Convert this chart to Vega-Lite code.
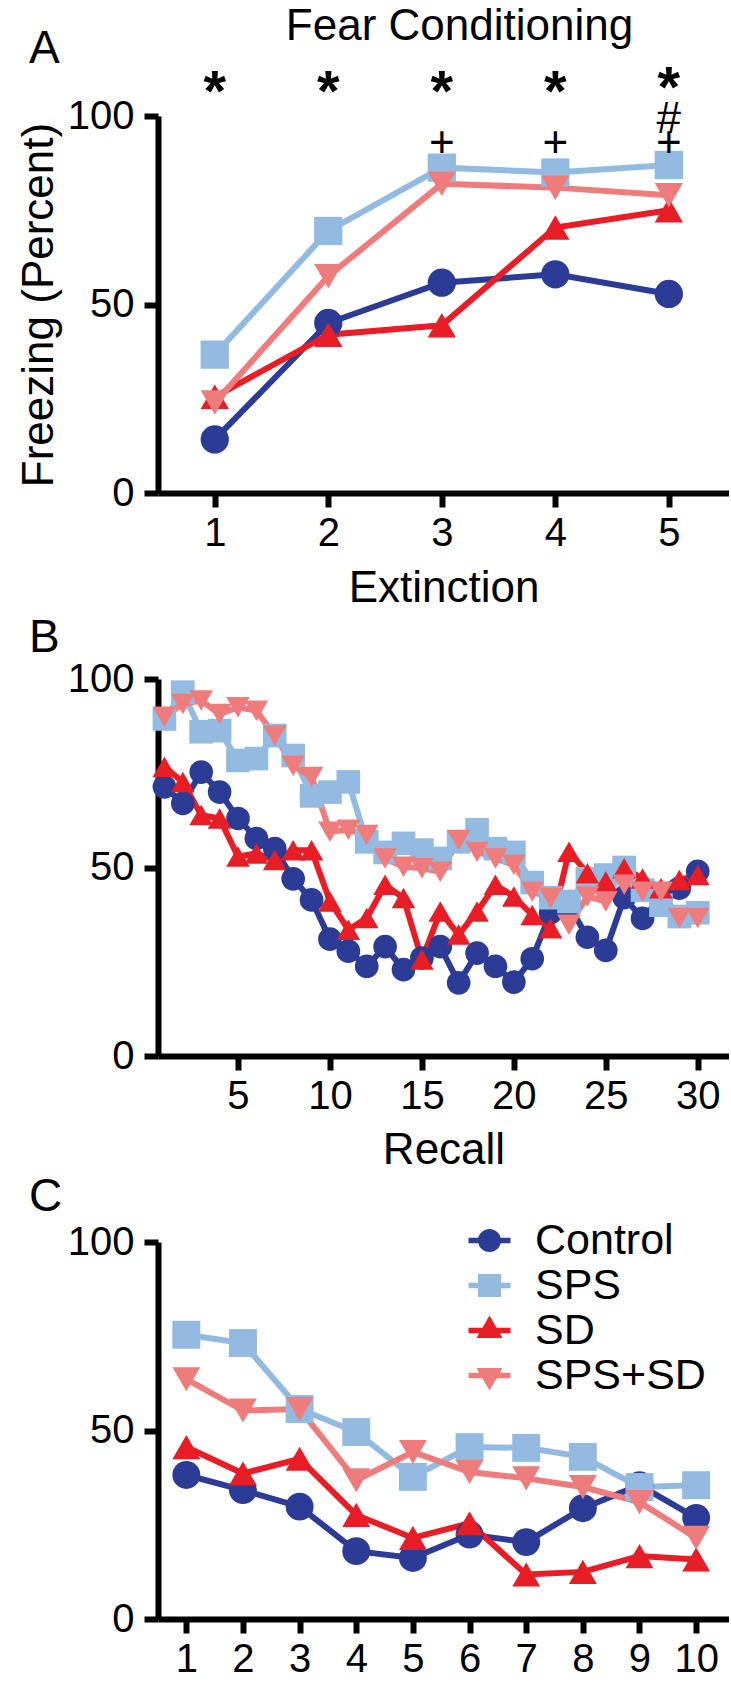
{
  "$schema": "https://vega.github.io/schema/vega-lite/v6.json",
  "background": "white",
  "autosize": {"type": "pad"},
  "padding": {"left": 17, "top": 4, "right": 0, "bottom": 0},
  "config": {
    "font": "Liberation Sans",
    "view": {"stroke": null},
    "axis": {"grid": false, "domainColor": "black", "domainWidth": 6, "tickColor": "black", "tickWidth": 6, "tickSize": 14, "labelFontSize": 40, "labelColor": "black", "labelFont": "Liberation Sans", "titleFont": "Liberation Sans", "titleFontSize": 44, "titleFontWeight": "normal", "titleColor": "black", "labelFlush": false, "labelOverlap": false},
    "axisY": {"labelPadding": 10},
    "axisX": {"labelPadding": 6, "format": "d"},
    "title": {"font": "Liberation Sans", "fontWeight": "normal", "color": "black"}
  },
  "title": {"text": "Fear Conditioning", "fontSize": 44, "anchor": "middle", "frame": "group", "dx": 16, "offset": -23},
  "bounds": "flush",
  "spacing": 186,
  "resolve": {"scale": {"color": "independent", "shape": "independent", "x": "independent", "y": "independent"}, "legend": {"color": "independent", "shape": "independent"}},
  "datasets": {
    "conditioning": [
      {"group": "Control", "trial": 1, "freezing": 14.2}, {"group": "Control", "trial": 2, "freezing": 45.1}, {"group": "Control", "trial": 3, "freezing": 55.8}, {"group": "Control", "trial": 4, "freezing": 58}, {"group": "Control", "trial": 5, "freezing": 52.8},
      {"group": "SPS", "trial": 1, "freezing": 36.7}, {"group": "SPS", "trial": 2, "freezing": 69.5}, {"group": "SPS", "trial": 3, "freezing": 86.3}, {"group": "SPS", "trial": 4, "freezing": 85}, {"group": "SPS", "trial": 5, "freezing": 87},
      {"group": "SD", "trial": 1, "freezing": 25.5}, {"group": "SD", "trial": 2, "freezing": 42}, {"group": "SD", "trial": 3, "freezing": 44.5}, {"group": "SD", "trial": 4, "freezing": 70.4}, {"group": "SD", "trial": 5, "freezing": 75},
      {"group": "SPS+SD", "trial": 1, "freezing": 24}, {"group": "SPS+SD", "trial": 2, "freezing": 57.5}, {"group": "SPS+SD", "trial": 3, "freezing": 82}, {"group": "SPS+SD", "trial": 4, "freezing": 81}, {"group": "SPS+SD", "trial": 5, "freezing": 79}
    ],
    "signif": [
      {"trial": 1, "freezing": 109.8, "sym": "*"}, {"trial": 2, "freezing": 109.8, "sym": "*"}, {"trial": 3, "freezing": 109.8, "sym": "*"}, {"trial": 4, "freezing": 109.8, "sym": "*"}, {"trial": 5, "freezing": 111, "sym": "*"},
      {"trial": 5, "freezing": 99, "sym": "#"},
      {"trial": 3, "freezing": 92.5, "sym": "+"}, {"trial": 4, "freezing": 92.5, "sym": "+"}, {"trial": 5, "freezing": 92.5, "sym": "+"}
    ],
    "extinction": [
      {"group": "Control", "trial": 1, "freezing": 71.4}, {"group": "Control", "trial": 2, "freezing": 67}, {"group": "Control", "trial": 3, "freezing": 75.3}, {"group": "Control", "trial": 4, "freezing": 70}, {"group": "Control", "trial": 5, "freezing": 63}, {"group": "Control", "trial": 6, "freezing": 57.7}, {"group": "Control", "trial": 7, "freezing": 55}, {"group": "Control", "trial": 8, "freezing": 47}, {"group": "Control", "trial": 9, "freezing": 41.4}, {"group": "Control", "trial": 10, "freezing": 31}, {"group": "Control", "trial": 11, "freezing": 27.8}, {"group": "Control", "trial": 12, "freezing": 23.8}, {"group": "Control", "trial": 13, "freezing": 29}, {"group": "Control", "trial": 14, "freezing": 22.9}, {"group": "Control", "trial": 15, "freezing": 26}, {"group": "Control", "trial": 16, "freezing": 29}, {"group": "Control", "trial": 17, "freezing": 19.4}, {"group": "Control", "trial": 18, "freezing": 27.3}, {"group": "Control", "trial": 19, "freezing": 23.8}, {"group": "Control", "trial": 20, "freezing": 19.6}, {"group": "Control", "trial": 21, "freezing": 25.8}, {"group": "Control", "trial": 22, "freezing": 38}, {"group": "Control", "trial": 23, "freezing": 40}, {"group": "Control", "trial": 24, "freezing": 31.5}, {"group": "Control", "trial": 25, "freezing": 28}, {"group": "Control", "trial": 26, "freezing": 42}, {"group": "Control", "trial": 27, "freezing": 36.5}, {"group": "Control", "trial": 28, "freezing": 42}, {"group": "Control", "trial": 29, "freezing": 44.5}, {"group": "Control", "trial": 30, "freezing": 49},
      {"group": "SPS", "trial": 1, "freezing": 89.4}, {"group": "SPS", "trial": 2, "freezing": 96.5}, {"group": "SPS", "trial": 3, "freezing": 86}, {"group": "SPS", "trial": 4, "freezing": 86.3}, {"group": "SPS", "trial": 5, "freezing": 78.4}, {"group": "SPS", "trial": 6, "freezing": 78.9}, {"group": "SPS", "trial": 7, "freezing": 85}, {"group": "SPS", "trial": 8, "freezing": 79.7}, {"group": "SPS", "trial": 9, "freezing": 69}, {"group": "SPS", "trial": 10, "freezing": 70}, {"group": "SPS", "trial": 11, "freezing": 72.7}, {"group": "SPS", "trial": 12, "freezing": 56.8}, {"group": "SPS", "trial": 13, "freezing": 54}, {"group": "SPS", "trial": 14, "freezing": 56.4}, {"group": "SPS", "trial": 15, "freezing": 54.6}, {"group": "SPS", "trial": 16, "freezing": 52.4}, {"group": "SPS", "trial": 17, "freezing": 56.8}, {"group": "SPS", "trial": 18, "freezing": 60}, {"group": "SPS", "trial": 19, "freezing": 55}, {"group": "SPS", "trial": 20, "freezing": 54}, {"group": "SPS", "trial": 21, "freezing": 46}, {"group": "SPS", "trial": 22, "freezing": 42}, {"group": "SPS", "trial": 23, "freezing": 41}, {"group": "SPS", "trial": 24, "freezing": 47}, {"group": "SPS", "trial": 25, "freezing": 48}, {"group": "SPS", "trial": 26, "freezing": 50}, {"group": "SPS", "trial": 27, "freezing": 44}, {"group": "SPS", "trial": 28, "freezing": 40}, {"group": "SPS", "trial": 29, "freezing": 37}, {"group": "SPS", "trial": 30, "freezing": 38},
      {"group": "SD", "trial": 1, "freezing": 76.7}, {"group": "SD", "trial": 2, "freezing": 72.7}, {"group": "SD", "trial": 3, "freezing": 63.9}, {"group": "SD", "trial": 4, "freezing": 63}, {"group": "SD", "trial": 5, "freezing": 52.9}, {"group": "SD", "trial": 6, "freezing": 53.7}, {"group": "SD", "trial": 7, "freezing": 52}, {"group": "SD", "trial": 8, "freezing": 54.6}, {"group": "SD", "trial": 9, "freezing": 54.6}, {"group": "SD", "trial": 10, "freezing": 41}, {"group": "SD", "trial": 11, "freezing": 33.5}, {"group": "SD", "trial": 12, "freezing": 36.6}, {"group": "SD", "trial": 13, "freezing": 45.4}, {"group": "SD", "trial": 14, "freezing": 41.9}, {"group": "SD", "trial": 15, "freezing": 25.6}, {"group": "SD", "trial": 16, "freezing": 38.3}, {"group": "SD", "trial": 17, "freezing": 32.2}, {"group": "SD", "trial": 18, "freezing": 38.3}, {"group": "SD", "trial": 19, "freezing": 45.4}, {"group": "SD", "trial": 20, "freezing": 42.3}, {"group": "SD", "trial": 21, "freezing": 37.4}, {"group": "SD", "trial": 22, "freezing": 33.9}, {"group": "SD", "trial": 23, "freezing": 54.2}, {"group": "SD", "trial": 24, "freezing": 48.5}, {"group": "SD", "trial": 25, "freezing": 46.3}, {"group": "SD", "trial": 26, "freezing": 49.8}, {"group": "SD", "trial": 27, "freezing": 47.1}, {"group": "SD", "trial": 28, "freezing": 44.5}, {"group": "SD", "trial": 29, "freezing": 46.7}, {"group": "SD", "trial": 30, "freezing": 48},
      {"group": "SPS+SD", "trial": 1, "freezing": 90}, {"group": "SPS+SD", "trial": 2, "freezing": 93.4}, {"group": "SPS+SD", "trial": 3, "freezing": 94.3}, {"group": "SPS+SD", "trial": 4, "freezing": 90.7}, {"group": "SPS+SD", "trial": 5, "freezing": 92.5}, {"group": "SPS+SD", "trial": 6, "freezing": 91.6}, {"group": "SPS+SD", "trial": 7, "freezing": 85}, {"group": "SPS+SD", "trial": 8, "freezing": 77}, {"group": "SPS+SD", "trial": 9, "freezing": 74}, {"group": "SPS+SD", "trial": 10, "freezing": 59.5}, {"group": "SPS+SD", "trial": 11, "freezing": 60}, {"group": "SPS+SD", "trial": 12, "freezing": 58.6}, {"group": "SPS+SD", "trial": 13, "freezing": 52.4}, {"group": "SPS+SD", "trial": 14, "freezing": 50.2}, {"group": "SPS+SD", "trial": 15, "freezing": 49.8}, {"group": "SPS+SD", "trial": 16, "freezing": 48.9}, {"group": "SPS+SD", "trial": 17, "freezing": 57.3}, {"group": "SPS+SD", "trial": 18, "freezing": 54.2}, {"group": "SPS+SD", "trial": 19, "freezing": 52.4}, {"group": "SPS+SD", "trial": 20, "freezing": 50.7}, {"group": "SPS+SD", "trial": 21, "freezing": 43.6}, {"group": "SPS+SD", "trial": 22, "freezing": 41.9}, {"group": "SPS+SD", "trial": 23, "freezing": 34.8}, {"group": "SPS+SD", "trial": 24, "freezing": 42.3}, {"group": "SPS+SD", "trial": 25, "freezing": 41}, {"group": "SPS+SD", "trial": 26, "freezing": 45.4}, {"group": "SPS+SD", "trial": 27, "freezing": 43.6}, {"group": "SPS+SD", "trial": 28, "freezing": 43.6}, {"group": "SPS+SD", "trial": 29, "freezing": 36.6}, {"group": "SPS+SD", "trial": 30, "freezing": 36.6}
    ],
    "recall": [
      {"group": "Control", "trial": 1, "freezing": 38.2}, {"group": "Control", "trial": 2, "freezing": 34.2}, {"group": "Control", "trial": 3, "freezing": 29.8}, {"group": "Control", "trial": 4, "freezing": 18}, {"group": "Control", "trial": 5, "freezing": 16.2}, {"group": "Control", "trial": 6, "freezing": 22.4}, {"group": "Control", "trial": 7, "freezing": 20.4}, {"group": "Control", "trial": 8, "freezing": 29.4}, {"group": "Control", "trial": 9, "freezing": 35.5}, {"group": "Control", "trial": 10, "freezing": 26.8},
      {"group": "SPS", "trial": 1, "freezing": 75.4}, {"group": "SPS", "trial": 2, "freezing": 73.2}, {"group": "SPS", "trial": 3, "freezing": 55.7}, {"group": "SPS", "trial": 4, "freezing": 49.6}, {"group": "SPS", "trial": 5, "freezing": 37.7}, {"group": "SPS", "trial": 6, "freezing": 45.6}, {"group": "SPS", "trial": 7, "freezing": 45.4}, {"group": "SPS", "trial": 8, "freezing": 43}, {"group": "SPS", "trial": 9, "freezing": 35}, {"group": "SPS", "trial": 10, "freezing": 35.5},
      {"group": "SD", "trial": 1, "freezing": 45.6}, {"group": "SD", "trial": 2, "freezing": 38.6}, {"group": "SD", "trial": 3, "freezing": 42.5}, {"group": "SD", "trial": 4, "freezing": 27.6}, {"group": "SD", "trial": 5, "freezing": 21.5}, {"group": "SD", "trial": 6, "freezing": 25.4}, {"group": "SD", "trial": 7, "freezing": 11.8}, {"group": "SD", "trial": 8, "freezing": 12.5}, {"group": "SD", "trial": 9, "freezing": 16.7}, {"group": "SD", "trial": 10, "freezing": 15.8},
      {"group": "SPS+SD", "trial": 1, "freezing": 63.6}, {"group": "SPS+SD", "trial": 2, "freezing": 55.3}, {"group": "SPS+SD", "trial": 3, "freezing": 55.7}, {"group": "SPS+SD", "trial": 4, "freezing": 36.8}, {"group": "SPS+SD", "trial": 5, "freezing": 44.3}, {"group": "SPS+SD", "trial": 6, "freezing": 39}, {"group": "SPS+SD", "trial": 7, "freezing": 37.3}, {"group": "SPS+SD", "trial": 8, "freezing": 35}, {"group": "SPS+SD", "trial": 9, "freezing": 31}, {"group": "SPS+SD", "trial": 10, "freezing": 21.5}
    ]
  },
  "vconcat": [
    {
      "width": 571, "height": 377,
      "title": {"text": "A", "fontSize": 46, "anchor": "start", "frame": "group", "dx": -129, "offset": -12},
      "layer": [
        {
          "data": {"name": "conditioning"},
          "mark": {"type": "line", "strokeWidth": 6},
          "encoding": {
            "x": {"field": "trial", "type": "quantitative", "scale": {"domain": [0.5, 5.53], "nice": false, "zero": false}, "axis": {"values": [1, 2, 3, 4, 5], "title": "Extinction", "titlePadding": 13}},
            "y": {"field": "freezing", "type": "quantitative", "scale": {"domain": [0, 100], "nice": false}, "axis": {"values": [0, 50, 100], "title": "Freezing (Percent)", "titlePadding": 6}},
            "color": {"field": "group", "type": "nominal", "scale": {"domain": ["Control", "SPS", "SD", "SPS+SD"], "range": ["#2b3b96", "#93bbe2", "#e81d25", "#ef7c7d"]}, "legend": null}
          }
        },
        {
          "data": {"name": "conditioning"},
          "mark": {"type": "point", "filled": true, "size": 800, "opacity": 1},
          "encoding": {
            "x": {"field": "trial", "type": "quantitative"},
            "y": {"field": "freezing", "type": "quantitative"},
            "color": {"field": "group", "type": "nominal", "legend": null},
            "shape": {"field": "group", "type": "nominal", "scale": {"domain": ["Control", "SPS", "SD", "SPS+SD"], "range": ["circle", "square", "triangle-up", "triangle-down"]}, "legend": null}
          }
        },
        {
          "data": {"name": "signif"},
          "transform": [{"filter": "datum.sym === '*'"}],
          "mark": {"type": "text", "fontSize": 58, "fontWeight": "bold", "baseline": "middle", "dy": 15, "color": "black"},
          "encoding": {
            "x": {"field": "trial", "type": "quantitative"},
            "y": {"field": "freezing", "type": "quantitative"},
            "text": {"field": "sym"}
          }
        },
        {
          "data": {"name": "signif"},
          "transform": [{"filter": "datum.sym !== '*'"}],
          "mark": {"type": "text", "fontSize": 44, "baseline": "middle", "color": "black"},
          "encoding": {
            "x": {"field": "trial", "type": "quantitative"},
            "y": {"field": "freezing", "type": "quantitative"},
            "text": {"field": "sym"}
          }
        }
      ]
    },
    {
      "width": 571, "height": 377,
      "title": {"text": "B", "fontSize": 46, "anchor": "start", "frame": "group", "dx": -129, "offset": -3},
      "data": {"name": "extinction"},
      "layer": [
        {
          "mark": {"type": "line", "strokeWidth": 6},
          "encoding": {
            "x": {"field": "trial", "type": "quantitative", "scale": {"domain": [0.65, 31.7], "nice": false, "zero": false}, "axis": {"values": [5, 10, 15, 20, 25, 30], "title": "Recall", "titlePadding": 12}},
            "y": {"field": "freezing", "type": "quantitative", "scale": {"domain": [0, 100], "nice": false}, "axis": {"values": [0, 50, 100], "title": null}},
            "color": {"field": "group", "type": "nominal", "scale": {"domain": ["Control", "SPS", "SD", "SPS+SD"], "range": ["#2b3b96", "#93bbe2", "#e81d25", "#ef7c7d"]}, "legend": null}
          }
        },
        {
          "mark": {"type": "point", "filled": true, "size": 560, "opacity": 1},
          "encoding": {
            "x": {"field": "trial", "type": "quantitative"},
            "y": {"field": "freezing", "type": "quantitative"},
            "color": {"field": "group", "type": "nominal", "legend": null},
            "shape": {"field": "group", "type": "nominal", "scale": {"domain": ["Control", "SPS", "SD", "SPS+SD"], "range": ["circle", "square", "triangle-up", "triangle-down"]}, "legend": null}
          }
        }
      ]
    },
    {
      "width": 571, "height": 377,
      "title": {"text": "C", "fontSize": 46, "anchor": "start", "frame": "group", "dx": -129, "offset": -2},
      "data": {"name": "recall"},
      "resolve": {"scale": {"color": "independent", "shape": "independent"}, "legend": {"color": "independent", "shape": "independent"}},
      "layer": [
        {
          "mark": {"type": "line", "strokeWidth": 6},
          "encoding": {
            "x": {"field": "trial", "type": "quantitative", "scale": {"domain": [0.5, 10.58], "nice": false, "zero": false}, "axis": {"values": [1, 2, 3, 4, 5, 6, 7, 8, 9, 10], "title": null}},
            "y": {"field": "freezing", "type": "quantitative", "scale": {"domain": [0, 100], "nice": false}, "axis": {"values": [0, 50, 100], "title": null}},
            "color": {"field": "group", "type": "nominal", "scale": {"domain": ["Control", "SPS", "SD", "SPS+SD"], "range": ["#2b3b96", "#93bbe2", "#e81d25", "#ef7c7d"]}, "legend": null}
          }
        },
        {
          "mark": {"type": "point", "filled": true, "size": 780, "opacity": 1},
          "encoding": {
            "x": {"field": "trial", "type": "quantitative"},
            "y": {"field": "freezing", "type": "quantitative"},
            "color": {"field": "group", "type": "nominal", "scale": {"domain": ["Control", "SPS", "SD", "SPS+SD"], "range": ["#2b3b96", "#93bbe2", "#e81d25", "#ef7c7d"]}, "legend": null},
            "shape": {"field": "group", "type": "nominal", "scale": {"domain": ["Control", "SPS", "SD", "SPS+SD"], "range": ["circle", "square", "triangle-up", "triangle-down"]}, "legend": null}
          }
        },
        {
          "transform": [{"filter": "false"}],
          "mark": {"type": "point", "filled": true, "size": 780},
          "encoding": {
            "x": {"field": "trial", "type": "quantitative"},
            "y": {"field": "freezing", "type": "quantitative"},
            "color": {"field": "group", "type": "nominal", "scale": {"domain": ["Control", "SPS", "SD", "SPS+SD"], "range": ["#2b3b96", "#93bbe2", "#e81d25", "#ef7c7d"]}, "legend": {"orient": "none", "legendX": 310, "legendY": -23, "title": null, "padding": 0, "labelFontSize": 43, "labelLimit": 0, "labelColor": "black", "symbolSize": 1764, "rowPadding": 1, "labelOffset": 24, "symbolOpacity": 1, "symbolStrokeWidth": 0}},
            "shape": {"field": "group", "type": "nominal", "scale": {"domain": ["Control", "SPS", "SD", "SPS+SD"], "range": ["M-1,-0.13H1V0.13H-1Z M0.55,0A0.55,0.55 0 1,1 -0.55,0A0.55,0.55 0 1,1 0.55,0Z", "M-1,-0.13H1V0.13H-1Z M-0.55,-0.55H0.55V0.55H-0.55Z", "M-1,-0.13H1V0.13H-1Z M0,-0.72L0.62,0.36L-0.62,0.36Z", "M-1,-0.13H1V0.13H-1Z M0,0.72L-0.62,-0.36L0.62,-0.36Z"]}, "legend": {"orient": "none", "legendX": 310, "legendY": -23, "title": null, "padding": 0, "labelFontSize": 43, "labelLimit": 0, "labelColor": "black", "symbolSize": 1764, "rowPadding": 1, "labelOffset": 24, "symbolOpacity": 1, "symbolStrokeWidth": 0}}
          }
        }
      ]
    }
  ]
}
